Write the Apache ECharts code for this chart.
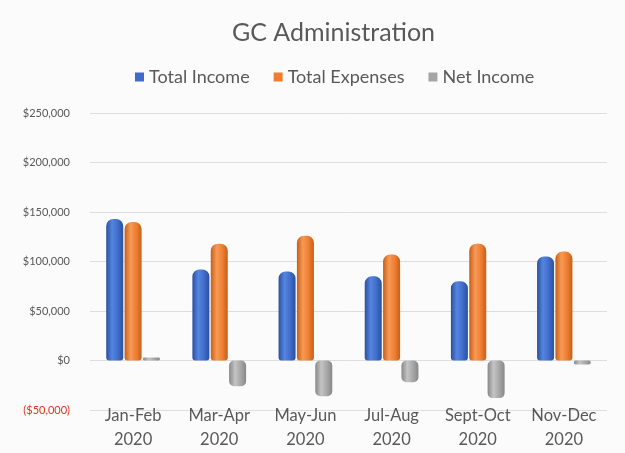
<!DOCTYPE html>
<html>
<head>
<meta charset="utf-8">
<script src="https://cdn.jsdelivr.net/npm/echarts@6/dist/echarts.min.js"></script>
<style>
    html, body { margin: 0; padding: 0; background: #fbfbfb; }
    #chart { width: 625px; height: 453px; }
</style>
</head>
<body>
<div id="chart"></div>
<script>
const categories = ["Jan-Feb\n2020", "Mar-Apr\n2020", "May-Jun\n2020", "Jul-Aug\n2020", "Sept-Oct\n2020", "Nov-Dec\n2020"];
const totalIncome = [143000, 92000, 90000, 85000, 80000, 105000];
const totalExpenses = [140000, 118000, 126000, 107000, 118000, 110000];
const netIncome = [3000, -26000, -36000, -22000, -38000, -4000];

const FONT = "Lato, 'Open Sans', sans-serif";

// fake the cylinder look with a horizontal gradient
function cylinder(dark, mid, light) {
    return new echarts.graphic.LinearGradient(0, 0, 1, 0, [
        { offset: 0, color: dark },
        { offset: 0.35, color: light },
        { offset: 0.7, color: mid },
        { offset: 1, color: dark },
    ]);
}

function money(v) {
    const s = "$" + Math.abs(v).toLocaleString("en-US");
    return v < 0 ? "(" + s + ")" : s;
}

const chart = echarts.init(document.getElementById("chart"));
chart.setOption({
    backgroundColor: "#fbfbfb",
    title: {
        text: "GC Administration",
        left: 227,
        top: 15,
        textStyle: { fontFamily: FONT, fontSize: 25, fontWeight: "normal", color: "#595959" },
    },
    legend: {
        top: 63,
        left: 130,
        icon: "rect",
        itemWidth: 9,
        itemHeight: 9,
        itemGap: 24,
        textStyle: { fontFamily: FONT, fontSize: 18, color: "#595959" },
        data: [
            { name: "Total Income", itemStyle: { color: "#3f6cc8" } },
            { name: "Total Expenses", itemStyle: { color: "#ed7d31" } },
            { name: "Net Income", itemStyle: { color: "#a5a5a5" } },
        ],
    },
    grid: { left: 90, right: 18, top: 113, bottom: 43 },
    xAxis: {
        type: "category",
        data: categories,
        axisLine: { show: false },
        axisTick: { show: false },
        axisLabel: {
            fontFamily: FONT,
            fontSize: 16.5,
            color: "#595959",
            lineHeight: 24,
            margin: -6,
        },
    },
    yAxis: {
        type: "value",
        min: -50000,
        max: 250000,
        interval: 50000,
        axisLine: { show: false },
        axisTick: { show: false },
        splitLine: { lineStyle: { color: "#dedede" } },
        axisLabel: {
            fontFamily: FONT,
            fontSize: 11,
            margin: 20,
            color: (v) => (v < 0 ? "#e0321e" : "#595959"),
            formatter: money,
        },
    },
    series: [
        {
            name: "Total Income",
            type: "bar",
            data: totalIncome,
            barWidth: 17,
            barGap: "8%",
            itemStyle: {
                color: cylinder("#2a50a0", "#3f6cc8", "#5585e0"),
                borderRadius: [7, 7, 3, 3],
            },
        },
        {
            name: "Total Expenses",
            type: "bar",
            data: totalExpenses,
            barWidth: 17,
            itemStyle: {
                color: cylinder("#c85e18", "#ed7d31", "#f79a55"),
                borderRadius: [7, 7, 3, 3],
            },
        },
        {
            name: "Net Income",
            type: "bar",
            data: netIncome,
            barWidth: 17,
            itemStyle: {
                color: cylinder("#888888", "#a5a5a5", "#c4c4c4"),
                borderRadius: 5,
            },
        },
    ],
    color: ["#3f6cc8", "#ed7d31", "#a5a5a5"],
});
</script>
</body>
</html>
